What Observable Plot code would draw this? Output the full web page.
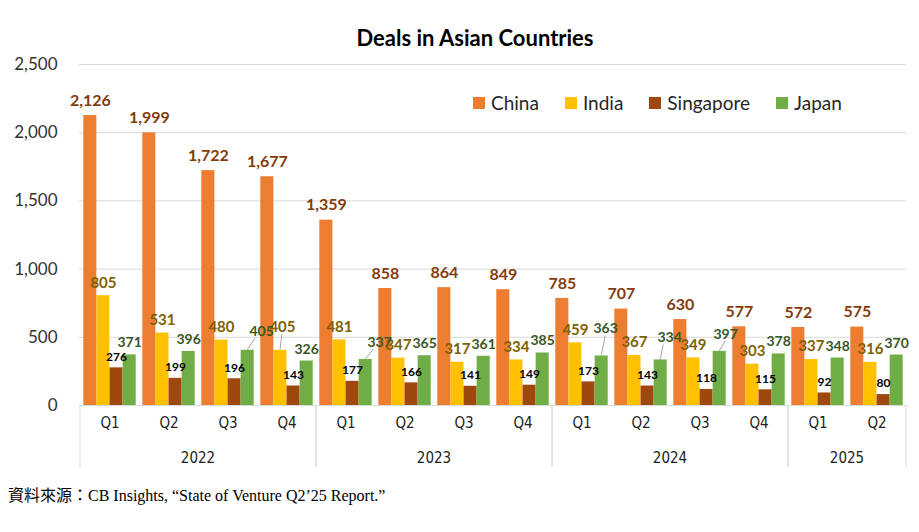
<!DOCTYPE html>
<html>
<head>
<meta charset="utf-8">
<script src="https://cdn.jsdelivr.net/npm/d3@7"></script>
<script src="https://cdn.jsdelivr.net/npm/@observablehq/plot@0.6"></script>
<style>
  html, body { margin: 0; padding: 0; background: #fff; }
  #wrap { position: relative; width: 919px; height: 532px; overflow: hidden; font-family: Lato, "Open Sans", sans-serif; }
  #title { position: absolute; left: 0; width: 950px; top: 24px; text-align: center; font-size: 22px; font-weight: bold; color: #000; }
  #legend { position: absolute; left: 473px; top: 91px; display: flex; gap: 26px; font-size: 19px; color: #262626; }
  #legend .item { display: flex; align-items: center; }
  #legend .sw { width: 12px; height: 12px; margin-right: 6px; display: inline-block; }
  #chart { position: absolute; left: 0; top: 0; }
  #caption { position: absolute; left: 8px; top: 482px; font-family: "Liberation Serif", "Noto Sans CJK TC", serif; font-size: 16px; color: #000; }
  svg [aria-label="x-axis tick label"] text { font-family: "Liberation Sans Narrow", "DejaVu Sans Condensed", Lato, sans-serif; }
</style>
</head>
<body>
<div id="wrap">
  <div id="chart"></div>
  <div id="title">Deals in Asian Countries</div>
  <div id="legend"></div>
  <div id="caption">資料來源：CB Insights, “State of Venture Q2’25 Report.”</div>
</div>
<script>
// ---- data ----
const years = ["2022","2022","2022","2022","2023","2023","2023","2023","2024","2024","2024","2024","2025","2025"];
const quarters = ["Q1","Q2","Q3","Q4","Q1","Q2","Q3","Q4","Q1","Q2","Q3","Q4","Q1","Q2"];
const china = [2126,1999,1722,1677,1359,858,864,849,785,707,630,577,572,575];
const india = [805,531,480,405,481,347,317,334,459,367,349,303,337,316];
const singapore = [276,199,196,143,177,166,141,149,173,143,118,115,92,80];
const japan = [371,396,405,326,337,365,361,385,363,334,397,378,348,370];
const seriesNames = ["China","India","Singapore","Japan"];
const yTicks = [0,500,1000,1500,2000,2500];

// ---- styles ----
const seriesStyle = {
  China:     {values: china,     fill: "#ED7D31", label: "#843C0C", size: 16, dy: -15},
  India:     {values: india,     fill: "#FFC000", label: "#7F6000", size: 15, dy: -13},
  Singapore: {values: singapore, fill: "#9E480E", label: "#000000", size: 12, dy: -11},
  Japan:     {values: japan,     fill: "#70AD47", label: "#385723", size: 14, dy: -12}
};
// label callouts (pixel nudges) with leader lines
const nudges = [
  {i: 2,  s: "Japan", dx: 14, dy: -7},
  {i: 3,  s: "India", dx: 2,  dy: -10},
  {i: 4,  s: "Japan", dx: 14, dy: -5},
  {i: 8,  s: "Japan", dx: 4,  dy: -15},
  {i: 9,  s: "Japan", dx: 9,  dy: -10},
  {i: 10, s: "Japan", dx: 6,  dy: -5}
];

const keys = years.map((y, i) => y + " " + quarters[i]);
const rows = [];
seriesNames.forEach(s => seriesStyle[s].values.forEach((v, i) => rows.push({key: keys[i], i, series: s, value: v})));

const W = 919, H = 475, mL = 79, mR = 13, mT = 64, mB = 70;
const bw = (W - mL - mR) / keys.length;
const pad = 3.3, w = (bw - 2 * pad) / 4;
const fmt = d3.format(",");
const isNudged = (d) => nudges.some(n => n.i === d.i && n.s === d.series);

const marks = [
  Plot.gridY({ticks: yTicks.slice(1), stroke: "#d9d9d9", strokeOpacity: 1}),
  Plot.ruleY([0], {stroke: "#d9d9d9"})
];
seriesNames.forEach((s, si) => {
  const st = seriesStyle[s];
  const data = rows.filter(r => r.series === s);
  marks.push(Plot.barY(data, {x: "key", y: "value", fill: st.fill, insetLeft: pad + si * w, insetRight: pad + (3 - si) * w}));
});
seriesNames.forEach((s, si) => {
  const st = seriesStyle[s];
  const off = -bw / 2 + pad + (si + 0.5) * w;
  const data = rows.filter(r => r.series === s && !isNudged(r));
  marks.push(Plot.text(data, {x: "key", y: "value", text: d => fmt(d.value), dx: off, dy: st.dy,
    fill: st.label, fontSize: st.size, fontWeight: "bold", fontFamily: "Lato", lineAnchor: "middle"}));
  nudges.filter(n => n.s === s).forEach(n => {
    const d = rows.filter(r => r.series === s && r.i === n.i);
    marks.push(Plot.text(d, {x: "key", y: "value", text: d => fmt(d.value), dx: off + n.dx, dy: st.dy + n.dy,
      fill: st.label, fontSize: st.size, fontWeight: "bold", fontFamily: "Lato", lineAnchor: "middle"}));
  });
});
marks.push(Plot.axisX({tickSize: 0, tickPadding: 12, fontSize: 15, fill: "#222", tickFormat: k => k.split(" ")[1]}));
marks.push(Plot.axisY({ticks: yTicks, tickSize: 0, tickPadding: 22, fontSize: 17, fill: "#333", tickFormat: fmt}));

const plot = Plot.plot({
  width: W, height: H,
  marginLeft: mL, marginRight: mR, marginTop: mT, marginBottom: mB,
  style: {fontFamily: "Lato, sans-serif", background: "transparent", overflow: "visible"},
  x: {domain: keys, paddingInner: 0, paddingOuter: 0, label: null},
  y: {domain: [0, 2500], label: null},
  marks
});
document.getElementById("chart").appendChild(plot);

// leader lines, year separators and year labels using the plot's scales
const xs = plot.scale("x"), ys = plot.scale("y");
const svg = d3.select(plot);
const g = svg.append("g");
nudges.forEach(n => {
  const si = seriesNames.indexOf(n.s);
  const st = seriesStyle[n.s];
  const v = st.values[n.i];
  const bx = xs.apply(keys[n.i]) + pad + (si + 0.5) * w;
  const by = ys.apply(v);
  const lx = bx + n.dx - (n.dx > 6 ? 6 : 0);
  const ly = by + st.dy + n.dy + 7;
  g.append("line").attr("x1", bx).attr("y1", by).attr("x2", lx).attr("y2", ly)
    .attr("stroke", "#a6a6a6").attr("stroke-width", 1);
});
const y0 = ys.apply(0);
const uniqYears = [...new Set(years)];
const bounds = [];
uniqYears.forEach(yr => {
  const idx = keys.map((k, i) => i).filter(i => years[i] === yr);
  const x0 = xs.apply(keys[idx[0]]);
  const x1 = xs.apply(keys[idx[idx.length - 1]]) + bw;
  bounds.push(x0, x1);
  g.append("text").attr("x", (x0 + x1) / 2).attr("y", y0 + 53)
    .attr("text-anchor", "middle").attr("dominant-baseline", "middle")
    .attr("font-family", "'Liberation Sans Narrow', 'DejaVu Sans Condensed', Lato, sans-serif")
    .attr("font-size", 15).attr("fill", "#222").text(yr);
});
[...new Set(bounds.map(b => Math.round(b * 10) / 10))].forEach(bx => {
  g.append("line").attr("x1", bx).attr("x2", bx).attr("y1", y0).attr("y2", y0 + 62)
    .attr("stroke", "#d9d9d9").attr("stroke-width", 1);
});

// legend
const lg = d3.select("#legend");
seriesNames.forEach(s => {
  const it = lg.append("div").attr("class", "item");
  it.append("span").attr("class", "sw").style("background", seriesStyle[s].fill);
  it.append("span").text(s);
});
</script>
</body>
</html>
